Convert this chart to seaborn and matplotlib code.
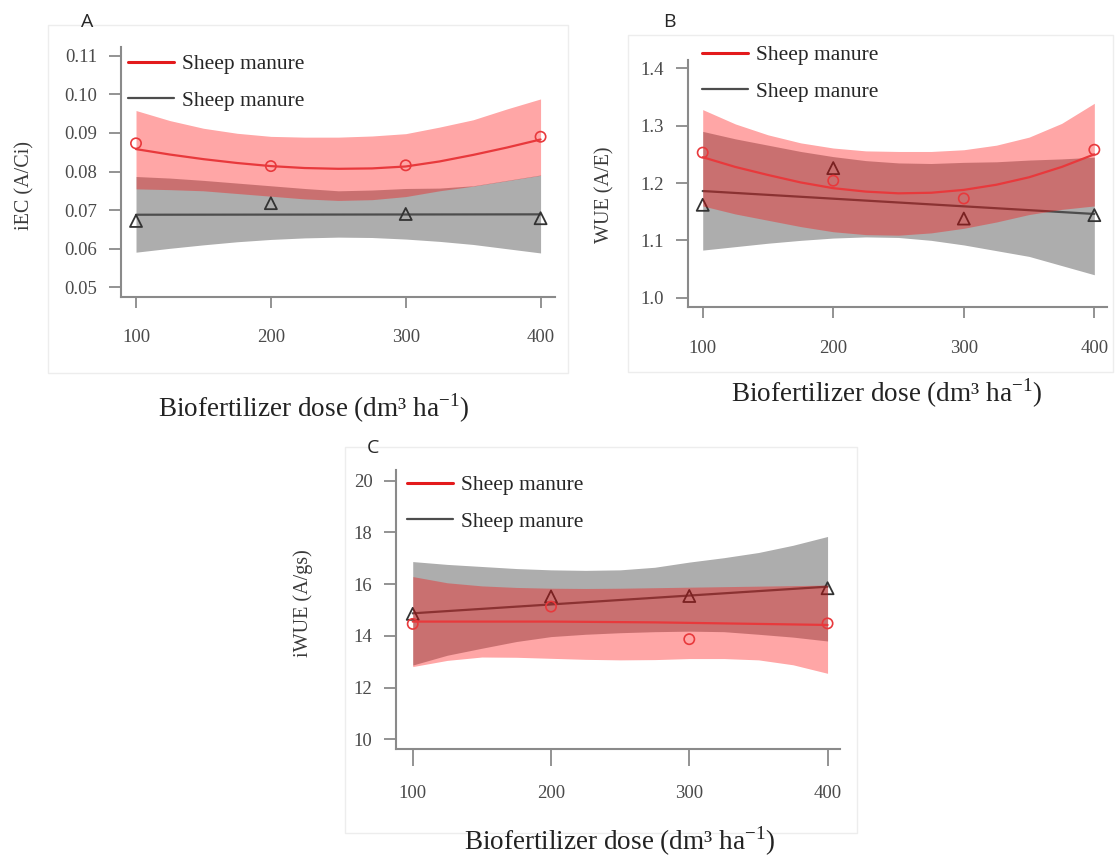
import matplotlib
matplotlib.use("Agg")
import matplotlib.pyplot as plt
import seaborn as sns
from matplotlib.lines import Line2D
from matplotlib.patches import Rectangle

# ============================
# Data
# ============================
dose = [100, 200, 300, 400]
grid = [100, 125, 150, 175, 200, 225, 250, 275, 300, 325, 350, 375, 400]
line_ends = [100, 400]
legend_labels = ["Sheep manure", "Sheep manure"]
xlabel_text = "Biofertilizer dose (dm³ ha$^{\\mathregular{-1}}$)"

# Panel A - iEC (A/Ci)
a_red_pts = [0.0873, 0.0814, 0.0816, 0.0890]
a_gray_pts = [0.0672, 0.0718, 0.0690, 0.0679]
a_red_fit = [0.0858, 0.0844, 0.0832, 0.0822, 0.0814, 0.0809, 0.0807, 0.0808, 0.0813, 0.0826, 0.0843, 0.0862, 0.0883]
a_red_hi = [0.0958, 0.0932, 0.0912, 0.0899, 0.0891, 0.0889, 0.0889, 0.0892, 0.0898, 0.0915, 0.0934, 0.0962, 0.0988]
a_red_lo = [0.0755, 0.0753, 0.0750, 0.0743, 0.0736, 0.0729, 0.0725, 0.0727, 0.0735, 0.0750, 0.0762, 0.0776, 0.0790]
a_gray_fit = [0.0688, 0.0689]
a_gray_hi = [0.0787, 0.0783, 0.0777, 0.0770, 0.0763, 0.0756, 0.0750, 0.0752, 0.0756, 0.0757, 0.0763, 0.0777, 0.0791]
a_gray_lo = [0.0591, 0.0601, 0.0610, 0.0618, 0.0624, 0.0628, 0.0630, 0.0629, 0.0625, 0.0619, 0.0611, 0.0600, 0.0589]
a_yticks = [0.05, 0.06, 0.07, 0.08, 0.09, 0.10, 0.11]
a_yticklabels = ["0.05", "0.06", "0.07", "0.08", "0.09", "0.10", "0.11"]

# Panel B - WUE (A/E)
b_red_pts = [1.253, 1.204, 1.173, 1.258]
b_gray_pts = [1.162, 1.226, 1.138, 1.144]
b_red_fit = [1.245, 1.228, 1.214, 1.201, 1.191, 1.185, 1.182, 1.183, 1.188, 1.197, 1.210, 1.228, 1.250]
b_red_hi = [1.328, 1.303, 1.284, 1.270, 1.261, 1.256, 1.255, 1.255, 1.258, 1.266, 1.280, 1.304, 1.339]
b_red_lo = [1.160, 1.146, 1.135, 1.124, 1.115, 1.110, 1.109, 1.113, 1.121, 1.132, 1.145, 1.154, 1.160]
b_gray_fit = [1.186, 1.146]
b_gray_hi = [1.290, 1.277, 1.266, 1.255, 1.246, 1.239, 1.235, 1.234, 1.236, 1.237, 1.240, 1.242, 1.245]
b_gray_lo = [1.083, 1.089, 1.095, 1.100, 1.104, 1.106, 1.105, 1.100, 1.092, 1.082, 1.072, 1.056, 1.040]
b_yticks = [1.0, 1.1, 1.2, 1.3, 1.4]
b_yticklabels = ["1.0", "1.1", "1.2", "1.3", "1.4"]

# Panel C - iWUE (A/gs)
c_red_pts = [14.46, 15.13, 13.87, 14.48]
c_gray_pts = [14.85, 15.52, 15.54, 15.84]
c_red_fit = [14.55, 14.55, 14.55, 14.55, 14.55, 14.54, 14.53, 14.52, 14.50, 14.48, 14.46, 14.44, 14.42]
c_red_hi = [16.29, 16.05, 15.93, 15.87, 15.84, 15.83, 15.84, 15.86, 15.88, 15.90, 15.92, 15.94, 15.96]
c_red_lo = [12.81, 13.05, 13.18, 13.17, 13.13, 13.09, 13.07, 13.08, 13.12, 13.12, 13.07, 12.88, 12.55]
c_gray_fit = [14.87, 15.90]
c_gray_hi = [16.87, 16.76, 16.68, 16.60, 16.55, 16.53, 16.55, 16.65, 16.85, 17.02, 17.22, 17.50, 17.84]
c_gray_lo = [12.87, 13.25, 13.52, 13.78, 13.97, 14.06, 14.12, 14.16, 14.18, 14.16, 14.06, 13.95, 13.80]
c_yticks = [10, 12, 14, 16, 18, 20]
c_yticklabels = ["10", "12", "14", "16", "18", "20"]

# ============================
# Style
# ============================
sns.set_theme(style="ticks")
plt.rcParams["font.family"] = ["Liberation Serif", "DejaVu Serif"]
plt.rcParams["mathtext.fontset"] = "custom"
plt.rcParams["mathtext.rm"] = "Liberation Serif"

RED = "#e8393c"
GRAY_LINE = "#4d4d4d"
GRAY_BAND = "#adadad"
AXIS_COL = "#8a8a8a"
TEXT_COL = "#3a3a3a"

W, H = 1115, 856
fig = plt.figure(figsize=(W / 100, H / 100), dpi=100)


def add_box(l, t, r, b):
    return fig.add_axes([l / W, 1 - b / H, (r - l) / W, (b - t) / H])


def ftext(x, y, s, **kw):
    fig.text(x / W, 1 - y / H, s, **kw)


# faint frames around each panel
for (l, t, r, b) in [(48, 25, 568, 373), (628, 35, 1113, 372), (345, 447, 857, 833)]:
    fig.patches.append(Rectangle((l / W, 1 - b / H), (r - l) / W, (b - t) / H,
                                 transform=fig.transFigure, fill=False,
                                 edgecolor="#ededed", lw=1))


def draw_panel(ax, red_pts, gray_pts, red_fit, red_hi, red_lo,
               gray_fit, gray_hi, gray_lo, yticks, yticklabels,
               xlim, ylim, xpad, ypad, xlen):
    # gray band + gray series first, red band on top (alpha)
    ax.fill_between(grid, gray_lo, gray_hi, color=GRAY_BAND, lw=0, zorder=1)
    sns.lineplot(x=line_ends, y=gray_fit, ax=ax, color=GRAY_LINE, lw=1.6, zorder=2)
    sns.scatterplot(x=dose, y=gray_pts, ax=ax, marker="^", s=75,
                    facecolor="none", edgecolor="#333333", linewidth=1.3, zorder=3)
    ax.fill_between(grid, red_lo, red_hi, color="red", alpha=0.35, lw=0, zorder=4)
    sns.lineplot(x=grid, y=red_fit, ax=ax, color=RED, lw=1.6, zorder=5)
    sns.scatterplot(x=dose, y=red_pts, ax=ax, marker="o", s=55,
                    facecolor="none", edgecolor=RED, linewidth=1.2, zorder=6)

    ax.set_xlim(*xlim)
    ax.set_ylim(*ylim)
    ax.set_xticks(dose)
    ax.set_xticklabels([str(d) for d in dose])
    ax.set_yticks(yticks)
    ax.set_yticklabels(yticklabels)
    ax.set_xlabel("")
    ax.set_ylabel("")
    for side in ["top", "right"]:
        ax.spines[side].set_visible(False)
    for side in ["left", "bottom"]:
        ax.spines[side].set_color(AXIS_COL)
        ax.spines[side].set_linewidth(1.5)
    ax.tick_params(axis="x", length=xlen, width=1.3, color=AXIS_COL,
                   labelsize=13.5, labelcolor="#4a4a4a", pad=xpad)
    ax.tick_params(axis="y", length=9, width=1.3, color=AXIS_COL,
                   labelsize=13.5, labelcolor="#4a4a4a", pad=ypad)
    ax.patch.set_alpha(0)
    if ax.get_legend() is not None:
        ax.get_legend().remove()


def add_legend(x, y):
    handles = [Line2D([0], [0], color="#e31a1c", lw=2.2),
               Line2D([0], [0], color=GRAY_LINE, lw=1.6)]
    fig.legend(handles, legend_labels, loc="upper left",
               bbox_to_anchor=(x / W, 1 - y / H), frameon=False,
               fontsize=15.5, handlelength=2.15, handletextpad=0.35,
               labelspacing=0.78, borderpad=0, borderaxespad=0)


# ============================
# Panel A
# ============================
ax_a = add_box(120.5, 46.7, 555, 297)
draw_panel(ax_a, a_red_pts, a_gray_pts, a_red_fit, a_red_hi, a_red_lo,
           a_gray_fit, a_gray_hi, a_gray_lo, a_yticks, a_yticklabels,
           (88.5, 410.7), (0.04749, 0.11233), 15, 8, 8)
add_legend(128, 54)
ftext(87, 22, "A", ha="center", va="center", fontsize=14, family="Open Sans")
ftext(25, 186, "iEC (A/Ci)", ha="center", va="center", rotation=90,
      fontsize=14.5, color=TEXT_COL)
ftext(314, 408, xlabel_text, ha="center", va="center", fontsize=19.5, color="#222222")

# ============================
# Panel B
# ============================
ax_b = add_box(687.7, 60, 1107, 306.7)
draw_panel(ax_b, b_red_pts, b_gray_pts, b_red_fit, b_red_hi, b_red_lo,
           b_gray_fit, b_gray_hi, b_gray_lo, b_yticks, b_yticklabels,
           (88.5, 409.7), (0.9843, 1.4145), 16, 8, 8)
add_legend(702, 45)
ftext(669, 22, "B", ha="center", va="center", fontsize=14, family="Open Sans")
ftext(605, 195, "WUE (A/E)", ha="center", va="center", rotation=90,
      fontsize=14.5, color=TEXT_COL)
ftext(887, 393, xlabel_text, ha="center", va="center", fontsize=19.5, color="#222222")

# ============================
# Panel C
# ============================
ax_c = add_box(396, 470, 840, 749.3)
draw_panel(ax_c, c_red_pts, c_gray_pts, c_red_fit, c_red_hi, c_red_lo,
           c_gray_fit, c_gray_hi, c_gray_lo, c_yticks, c_yticklabels,
           (87.9, 409.0), (9.613, 20.41), 14, 8, 12)
add_legend(407, 475)
ftext(373, 448, "C", ha="center", va="center", fontsize=14, family="Open Sans")
ftext(303, 603, "iWUE (A/gs)", ha="center", va="center", rotation=90,
      fontsize=14.5, color=TEXT_COL)
ftext(620, 841, xlabel_text, ha="center", va="center", fontsize=19.5, color="#222222")

fig.savefig("out.png", dpi=100)
